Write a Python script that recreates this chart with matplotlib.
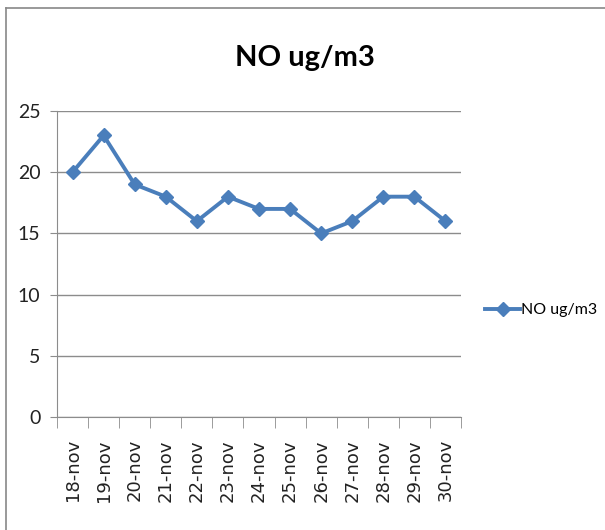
import matplotlib.pyplot as plt
from matplotlib.lines import Line2D
import numpy as np

dates = ["18-nov", "19-nov", "20-nov", "21-nov", "22-nov", "23-nov", "24-nov",
         "25-nov", "26-nov", "27-nov", "28-nov", "29-nov", "30-nov"]
no_values = [20, 23, 19, 18, 16, 18, 17, 17, 15, 16, 18, 18, 16]
series_name = "NO ug/m3"

blue = "#4a7ebb"
grid_gray = "#8c8c8c"

fig = plt.figure(figsize=(6.05, 5.30), dpi=100)
ax = fig.add_axes([57 / 605, 1 - 417 / 530, 404 / 605, 306 / 530])

x = np.arange(len(dates))
ax.plot(x, no_values, color=blue, lw=2.8, marker="D", ms=7.5,
        markeredgecolor=blue, markerfacecolor=blue)

ax.set_xlim(-0.5, len(dates) - 0.5)
ax.set_ylim(0, 25)
ax.set_yticks(range(0, 26, 5))
ax.yaxis.grid(True, color=grid_gray, lw=1)
ax.set_axisbelow(True)

# category labels centred, ticks on the boundaries
ax.set_xticks(x)
ax.set_xticklabels(dates, rotation=90, family="DejaVu Sans", fontsize=13, color="#222222")
ax.set_xticks(np.arange(-0.5, len(dates)), minor=True)
ax.tick_params(axis="x", which="major", length=0, pad=16)
ax.tick_params(axis="x", which="minor", length=8, color=grid_gray, direction="out")
ax.tick_params(axis="y", length=5, color=grid_gray, labelsize=14, pad=7)
for lab in ax.get_yticklabels():
    lab.set_family("Lato")
    lab.set_color("#222222")

for side in ["top", "right"]:
    ax.spines[side].set_visible(False)
for side in ["left", "bottom"]:
    ax.spines[side].set_color(grid_gray)

fig.text(305 / 605, 1 - 58 / 530, "NO ug/m3", ha="center", va="center",
         fontsize=21, fontweight="bold", family="Lato")

handle = Line2D([], [], color=blue, lw=2.8, marker="D", ms=7.5)
fig.legend([handle], [series_name], loc="center left",
           bbox_to_anchor=(485 / 605, 1 - 310 / 530), frameon=False,
           handlelength=2.2, handletextpad=0.05, borderpad=0, borderaxespad=0,
           prop={"family": "Lato", "size": 11.5})

# outer chart frame (only top and left edges visible in the crop)
fig.add_artist(Line2D([6 / 605, 6 / 605], [0, 1 - 8 / 530], transform=fig.transFigure,
                      color="#888888", lw=1.2))
fig.add_artist(Line2D([6 / 605, 1], [1 - 8 / 530, 1 - 8 / 530], transform=fig.transFigure,
                      color="#888888", lw=1.2))

fig.savefig("out.png", dpi=100)
